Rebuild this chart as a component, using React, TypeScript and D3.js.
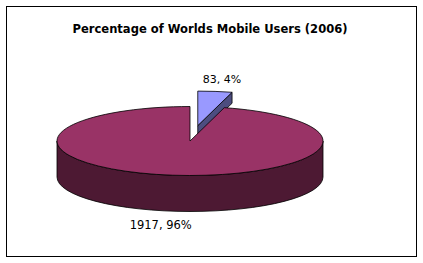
import React from "react";
import * as d3 from "d3";

const categories = ["Small", "Main"];
const values = [83, 1917];
const labels = ["83, 4%", "1917, 96%"];
const topColors = ["#9999ff", "#993366"];
const sideColors = ["#4d4d80", "#4d1933"];
const title = "Percentage of Worlds Mobile Users (2006)";

const W = 423, H = 263;
const cx = 190, cy = 141, rx = 133, ry = 34.5, depth = 36;
const explode = 0.45;
const cutVisible = 11;

function pt(a: number, ox = 0, oy = 0, r = 1): [number, number] {
  return [cx + ox + rx * r * Math.sin(a), cy + oy - ry * r * Math.cos(a)];
}

export default function App() {
  const pie = d3.pie<number>().sort(null).startAngle(0).endAngle(2 * Math.PI);
  const arcs = pie(values);
  const small = arcs[0];
  const main = arcs[1];

  // small slice explode offset
  const sm = (small.startAngle + small.endAngle) / 2;
  const dx = explode * rx * Math.sin(sm);
  const dy = -explode * ry * Math.cos(sm);

  const s0 = pt(small.startAngle, dx, dy);
  const s1 = pt(small.endAngle, dx, dy);
  const sc: [number, number] = [cx + dx, cy + dy];
  const smallTop = `M${sc[0]},${sc[1]} L${s0[0]},${s0[1]} A${rx},${ry} 0 0 1 ${s1[0]},${s1[1]} Z`;
  const smallCut = `M${sc[0]},${sc[1]} L${s1[0]},${s1[1]} L${s1[0]},${s1[1] + cutVisible} L${sc[0]},${sc[1] + cutVisible - 1} Z`;

  const m0 = pt(main.startAngle);
  const m1 = pt(main.endAngle);
  const large = main.endAngle - main.startAngle > Math.PI ? 1 : 0;
  const mainTop = `M${cx},${cy} L${m0[0]},${m0[1]} A${rx},${ry} 0 ${large} 1 ${m1[0]},${m1[1]} Z`;
  const r = pt(Math.PI / 2);
  const l = pt((3 * Math.PI) / 2);
  const mainSide = `M${r[0]},${r[1]} A${rx},${ry} 0 0 1 ${l[0]},${l[1]} L${l[0]},${l[1] + depth} A${rx},${ry} 0 0 0 ${r[0]},${r[1] + depth} Z`;

  const smallLabelPt = pt(sm, dx, dy);
  const mm = (main.startAngle + main.endAngle) / 2;
  const mainLabelPt = pt(mm, 0, depth);

  return (
    <svg width={W} height={H} style={{ position: "absolute", left: 0, top: 0 }} fontFamily="DejaVu Sans, Verdana, sans-serif">
      <rect x={0} y={0} width={W} height={H} fill="#ffffff" />
      <rect x={6.5} y={6.5} width={410} height={250} fill="#ffffff" stroke="#000" strokeWidth={1} />
      <text x={210} y={33} textAnchor="middle" fontSize={11.5} fontWeight="bold" textLength={275} lengthAdjust="spacingAndGlyphs">{title}</text>
      <path d={smallCut} fill={sideColors[0]} stroke="#000" strokeWidth={0.8} strokeLinejoin="round" />
      <path d={smallTop} fill={topColors[0]} stroke="#000" strokeWidth={0.8} strokeLinejoin="round" />
      <path d={mainSide} fill={sideColors[1]} stroke="#000" strokeWidth={0.8} />
      <path d={mainTop} fill={topColors[1]} stroke="#000" strokeWidth={0.8} strokeLinejoin="round" />
      <text x={smallLabelPt[0] + 7} y={smallLabelPt[1] - 8} textAnchor="middle" fontSize={11} fill="#000">{labels[0]}</text>
      <text x={mainLabelPt[0] - 12} y={mainLabelPt[1] + 18} textAnchor="middle" fontSize={11.5} fill="#000">{labels[1]}</text>
    </svg>
  );
}
